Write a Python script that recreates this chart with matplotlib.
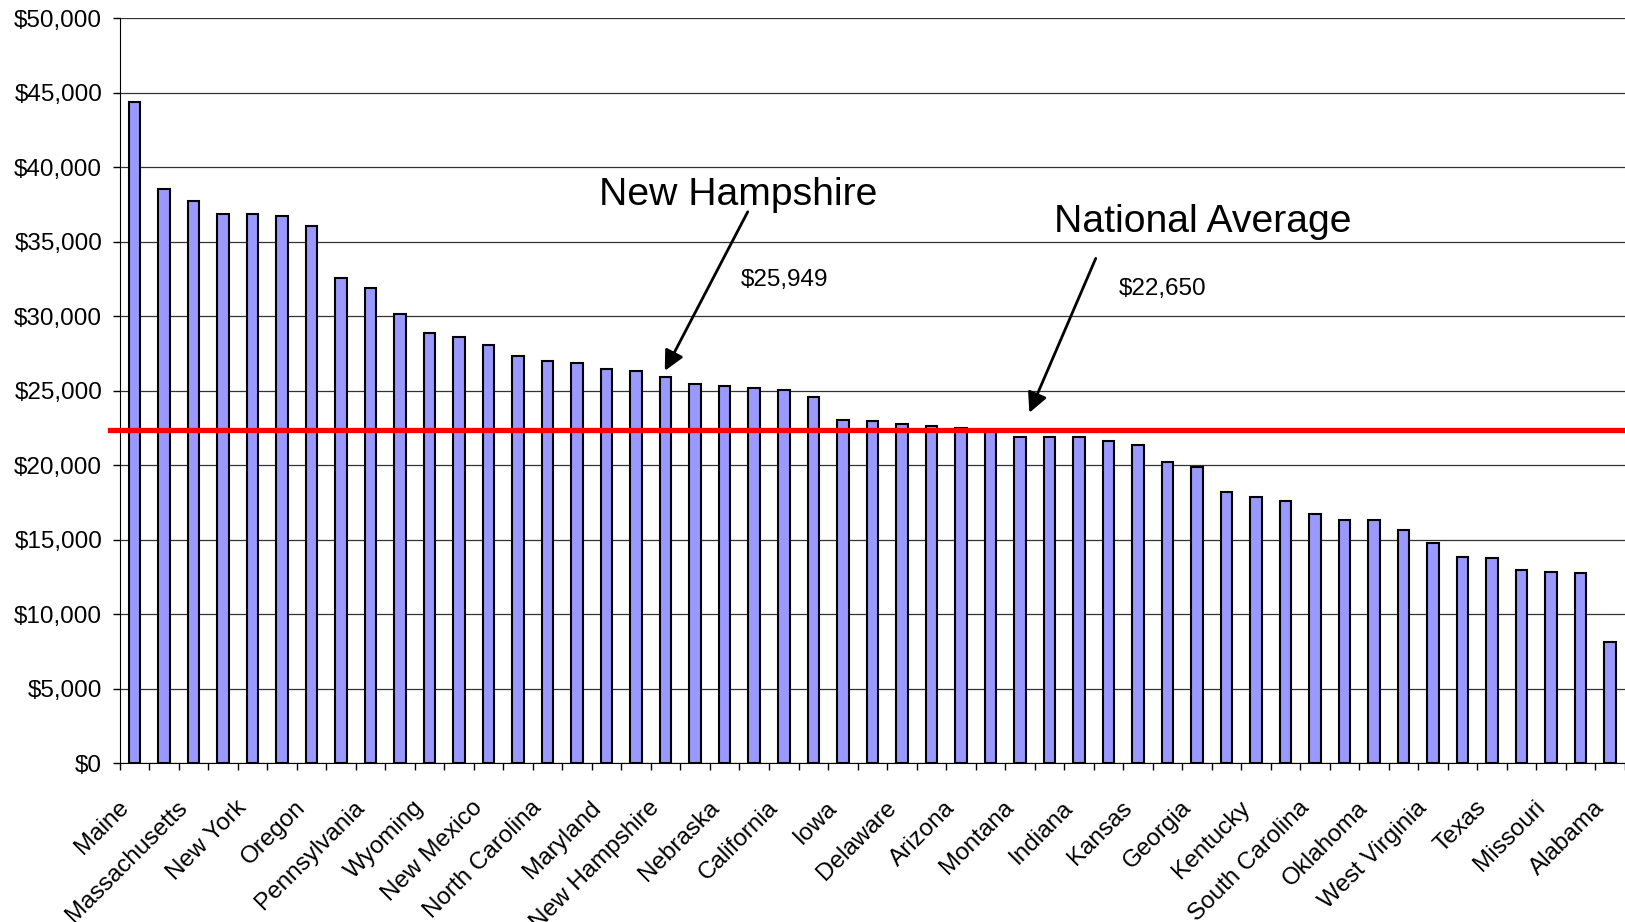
import numpy as np
import matplotlib
matplotlib.use("Agg")
import matplotlib.pyplot as plt
from matplotlib.ticker import FuncFormatter, FixedLocator
from matplotlib.transforms import ScaledTranslation

plt.rcParams['font.family'] = ['Liberation Sans', 'DejaVu Sans']

# values, sorted high -> low (51 bars)
values = [44360, 38520, 37740, 36840, 36840, 36750, 36080, 32550, 31900, 30180,
          28880, 28630, 28050, 27330, 27020, 26890, 26440, 26330, 25949, 25430,
          25320, 25210, 25070, 24600, 23020, 22950, 22800, 22660, 22500, 22350,
          21920, 21880, 21880, 21630, 21380, 20200, 19860, 18210, 17850, 17580,
          16750, 16330, 16330, 15640, 14810, 13870, 13800, 12950, 12860, 12790,
          8120]

# only every other bar carries a label
shown_labels = ["Maine", "Massachusetts", "New York", "Oregon", "Pennsylvania",
                "Wyoming", "New Mexico", "North Carolina", "Maryland",
                "New Hampshire", "Nebraska", "California", "Iowa", "Delaware",
                "Arizona", "Montana", "Indiana", "Kansas", "Georgia", "Kentucky",
                "South Carolina", "Oklahoma", "West Virginia", "Texas",
                "Missouri", "Alabama"]

nh_value = 25949
avg_line = 22350      # where the red line sits in the picture
avg_label = "$22,650"
nh_label = "$25,949"

FS = 17.5

fig = plt.figure(figsize=(16.25, 9.22), dpi=100)
ax = fig.add_axes([0.0736, 0.1721, 1 - 0.0736, 0.808])

x = np.arange(len(values))
ax.bar(x, values, width=0.39, color="#9999FF", edgecolor="black",
       linewidth=1.5, zorder=2)

ax.set_xlim(-0.5, 50.19)
ax.set_ylim(0, 50000)

# y axis
ax.yaxis.set_major_locator(FixedLocator(np.arange(0, 50001, 5000)))
ax.yaxis.set_major_formatter(FuncFormatter(lambda v, p: f"${v:,.0f}"))
ax.grid(axis="y", color="#333333", linewidth=0.9, zorder=0)
ax.set_axisbelow(True)
ax.tick_params(axis="y", direction="out", length=5, width=1,
               labelsize=FS, pad=7.5)

# x axis: ticks at category boundaries, labels on every other bar
ax.set_xticks(x[::2])
ax.set_xticklabels(shown_labels, rotation=45, ha="right", va="top",
                   rotation_mode="anchor", fontsize=FS)
ax.set_xticks(np.arange(-0.5, len(values), 1), minor=True)
ax.tick_params(axis="x", which="major", length=0, pad=24)
ax.tick_params(axis="x", which="minor", direction="out", length=5, width=1)
shift = ScaledTranslation(-0.17, 0, fig.dpi_scale_trans)
for lab in ax.get_xticklabels():
    lab.set_transform(lab.get_transform() + shift)

for s in ["top", "right"]:
    ax.spines[s].set_visible(False)
ax.spines["left"].set_color("black")
ax.spines["bottom"].set_color("black")

# national average line
ax.plot([-0.82, 52], [avg_line, avg_line], color="#FF0000", linewidth=3.8,
        zorder=4, clip_on=False)

# annotations
arrow = dict(arrowstyle="-|>", color="black", lw=2, mutation_scale=30,
             shrinkA=0, shrinkB=0)
ax.annotate("", xy=(17.97, 26347), xytext=(20.78, 37017), arrowprops=arrow,
            zorder=5)
ax.annotate("", xy=(30.32, 23529), xytext=(32.57, 33890), arrowprops=arrow,
            zorder=5)

ax.text(15.74, 37467, "New Hampshire", fontsize=28.2, va="baseline", ha="left")
ax.text(20.56, 32030, nh_label, fontsize=FS, va="baseline", ha="left")
ax.text(31.15, 35655, "National Average", fontsize=28.2, va="baseline", ha="left")
ax.text(33.35, 31428, avg_label, fontsize=FS, va="baseline", ha="left")

fig.savefig("out.png", dpi=100)
